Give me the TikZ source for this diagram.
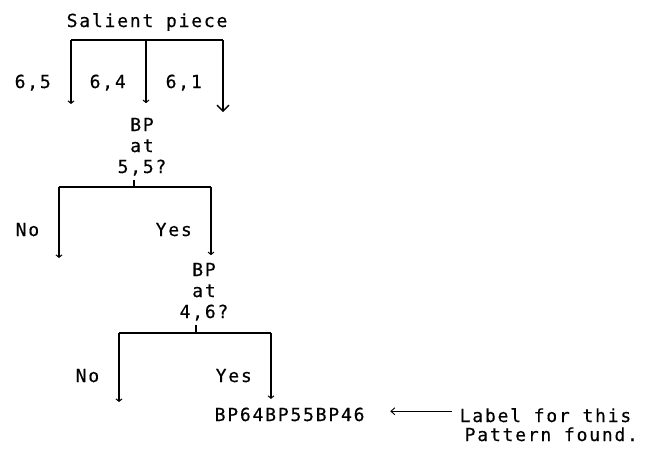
\documentclass[tikz,border=0pt]{standalone}
\usepackage{fontspec}
\usetikzlibrary{arrows.meta}
\newfontfamily\dotfont[LetterSpace=10, FakeBold=0.4]{DejaVu Sans Mono}
\begin{document}
\begin{tikzpicture}[x=1pt, y=-1pt, line width=1.4pt,
  txt/.style={font=\dotfont\fontsize{18}{18}\selectfont, inner sep=0pt},
  lbl/.style={txt, anchor=base west},
  qline/.style={txt, anchor=base},
  tipS/.style={-{Straight Barb[length=2.5pt,width=6pt,line width=1pt]}},
  tipL/.style={-{Straight Barb[length=6pt,width=12pt]}},
  labarr/.style={line width=0.9pt, -{Straight Barb[length=4pt,width=7pt]}}]
\useasboundingbox (0,0) rectangle (653,453);

% root and first split
\node[lbl] (sp) at (66,27) {Salient piece};
\node[lbl] (l65) at (14,88) {6,5};
\node[lbl] (l64) at (89,88) {6,4};
\node[lbl] (l61) at (165,88) {6,1};
\coordinate (b0L) at (71,40);
\coordinate (b0M) at (146,40);
\coordinate (b0R) at (223,40);
\coordinate (e65) at (71,104);
\coordinate (e61) at (223,112);

% first question
\node[qline] (q1a) at (142,131) {BP};
\node[qline] (q1b) at (142,152) {at};
\node[qline] (q1c) at (142,173) {5,5?};

\draw (b0L) -- (b0R);
\draw[tipS] (b0L) -- (e65);
\draw[tipS, shorten >=14pt] (b0M) -- (b0M |- q1a.north);
\draw[tipL] (b0R) -- (e61);

% split on the first question
\coordinate (b1L) at (59,187);
\coordinate (b1M) at (134,187);
\coordinate (b1R) at (211,187);
\coordinate (e1no) at (59,258);
\node[lbl] (no1) at (15,236) {No};
\node[lbl] (yes1) at (155,236) {Yes};

% second question
\node[qline] (q2a) at (204,276) {BP};
\node[qline] (q2b) at (204,297) {at};
\node[qline] (q2c) at (204,318) {4,6?};

\draw[shorten <=4pt] (q1c.south -| b1M) -- (b1M);
\draw (b1L) -- (b1R);
\draw[tipS] (b1L) -- (e1no);
\draw[tipS, shorten >=7pt] (b1R) -- (b1R |- q2a.north);

% split on the second question
\coordinate (b2L) at (119,333);
\coordinate (b2M) at (196,333);
\coordinate (b2R) at (271,333);
\coordinate (e2no) at (119,402);
\node[lbl] (no2) at (75,382) {No};
\node[lbl] (yes2) at (215,382) {Yes};

% resulting label and its note
\node[lbl] (res) at (214,421) {BP64BP55BP46};
\node[lbl] (lab1) at (459,422) {Label for this};
\node[lbl] (lab2) at (464,441) {Pattern found.};

\draw[shorten <=4pt] (q2c.south -| b2M) -- (b2M);
\draw (b2L) -- (b2R);
\draw[tipS] (b2L) -- (e2no);
\draw[tipS, shorten >=8pt] (b2R) -- (b2R |- res.north);

\draw[labarr, shorten <=7pt, shorten >=25pt]
  ([yshift=4pt]lab1.west) -- ([yshift=4pt]lab1.west -| res.east);
\end{tikzpicture}
\end{document}
